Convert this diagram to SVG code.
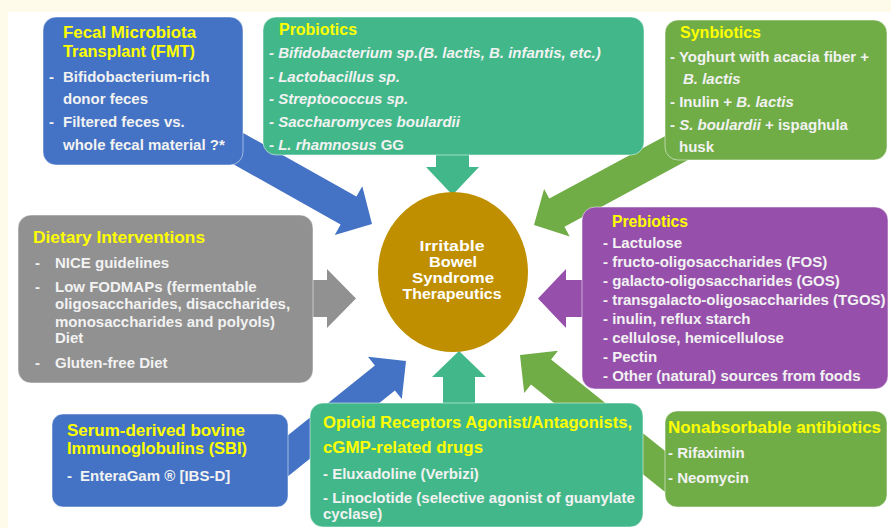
<svg xmlns="http://www.w3.org/2000/svg" width="891" height="528" viewBox="0 0 891 528">
<style>
.bg{fill:#fffbea}
.title{font-family:"Liberation Sans",Arial,sans-serif;font-weight:bold;font-size:16px;fill:#ffff00}
.body{font-family:"Liberation Sans",Arial,sans-serif;font-weight:bold;font-size:15px;fill:#f2f2f2}
.it{font-style:italic}
.center{font-family:"Liberation Sans",Arial,sans-serif;font-weight:bold;font-size:15px;fill:#ffffff;text-anchor:middle}
.box{stroke:#ffffff;stroke-opacity:0.5;stroke-width:1}
.blue{fill:#4472c4}
.teal{fill:#42b88a}
.green{fill:#70ad47}
.gray{fill:#919191}
.purple{fill:#9650ab}
</style>
<rect class="bg" x="0" y="0" width="891" height="528"/>
<rect x="8" y="12" width="883" height="516" fill="#ffffff"/>

<g id="connectors">
  <polygon class="blue" points="181.2,134.8 340.6,224.6 334.8,235.1 372,224 362.3,186.3 356.4,196.6 197.0,107.0"/>
  <polygon class="green" points="720.0,106.4 549.3,198.6 544.1,188.9 534,225 569.7,236.4 564.5,226.7 735.2,134.6"/>
  <polygon class="blue" points="260.0,498.7 394.9,390.4 401.8,399.0 406,361 368.0,356.8 374.9,365.4 240.0,473.7"/>
  <polygon class="green" points="693.8,474.0 551.1,359.4 558.0,350.8 520,355 524.2,393.0 531.0,384.4 673.8,499.0"/>
  <polygon class="teal" points="436,150 469,150 469,167 479,167 452.5,195 426,167 436,167"/>
  <polygon class="teal" points="443,410 443,377 432,377 459,351 486,377 475,377 475,410"/>
  <polygon class="gray" points="305,280 327,280 327,269 356,298.5 327,328 327,317 305,317"/>
  <polygon class="purple" points="595,280 566,280 566,269 538,298.5 566,328 566,317 595,317"/>
</g>

<g id="ibs">
  <ellipse cx="453" cy="272" rx="75" ry="80" fill="#bf8f00"/>
  <text class="center" x="452" y="251" textLength="65" lengthAdjust="spacingAndGlyphs">Irritable</text>
  <text class="center" x="453" y="267" textLength="48" lengthAdjust="spacingAndGlyphs">Bowel</text>
  <text class="center" x="453" y="283" textLength="82" lengthAdjust="spacingAndGlyphs">Syndrome</text>
  <text class="center" x="452" y="299" textLength="99" lengthAdjust="spacingAndGlyphs">Therapeutics</text>
</g>

<g id="fmt">
  <rect class="box blue" x="43" y="17" width="200" height="148" rx="13"/>
  <text class="title" x="63" y="38" textLength="133" lengthAdjust="spacingAndGlyphs">Fecal Microbiota</text>
  <text class="title" x="63" y="57" textLength="132" lengthAdjust="spacingAndGlyphs">Transplant (FMT)</text>
  <text class="body" x="49" y="82">-</text>
  <text class="body" x="63" y="82">Bifidobacterium-rich</text>
  <text class="body" x="63" y="104">donor feces</text>
  <text class="body" x="49" y="127">-</text>
  <text class="body" x="63" y="127">Filtered feces vs.</text>
  <text class="body" x="63" y="150">whole fecal material ?*</text>
</g>

<g id="probiotics">
  <rect class="box teal" x="263" y="17" width="381" height="138" rx="13"/>
  <text class="title" x="279" y="35" textLength="78" lengthAdjust="spacingAndGlyphs">Probiotics</text>
  <text class="body it" x="269" y="58">- Bifidobacterium sp.(B. lactis, B. infantis, etc.)</text>
  <text class="body it" x="269" y="82">- Lactobacillus sp.</text>
  <text class="body it" x="269" y="104">- Streptococcus sp.</text>
  <text class="body it" x="269" y="127">- Saccharomyces boulardii</text>
  <text class="body" x="269" y="150">- <tspan class="it">L. rhamnosus</tspan> GG</text>
</g>

<g id="synbiotics">
  <rect class="box green" x="665" y="20" width="222" height="140" rx="13"/>
  <text class="title" x="680" y="38" textLength="81" lengthAdjust="spacingAndGlyphs">Synbiotics</text>
  <text class="body" x="670" y="62">- Yoghurt with acacia fiber +</text>
  <text class="body it" x="683" y="84">B. lactis</text>
  <text class="body" x="670" y="107">- Inulin + <tspan class="it">B. lactis</tspan></text>
  <text class="body" x="670" y="130">- <tspan class="it">S. boulardii</tspan> + ispaghula</text>
  <text class="body" x="679" y="152">husk</text>
</g>

<g id="dietary">
  <rect class="box gray" x="18" y="215" width="295" height="168" rx="13"/>
  <text class="title" x="33" y="243" textLength="172" lengthAdjust="spacingAndGlyphs">Dietary Interventions</text>
  <text class="body" x="35" y="268">-</text>
  <text class="body" x="55" y="268">NICE guidelines</text>
  <text class="body" x="35" y="292">-</text>
  <text class="body" x="55" y="292">Low FODMAPs (fermentable</text>
  <text class="body" x="55" y="309">oligosaccharides, disaccharides,</text>
  <text class="body" x="55" y="327">monosaccharides and polyols)</text>
  <text class="body" x="55" y="343">Diet</text>
  <text class="body" x="35" y="368">-</text>
  <text class="body" x="55" y="368">Gluten-free Diet</text>
</g>

<g id="prebiotics">
  <rect class="box purple" x="582" y="207" width="306" height="182" rx="13"/>
  <text class="title" x="612" y="227" textLength="76" lengthAdjust="spacingAndGlyphs">Prebiotics</text>
  <text class="body" x="603" y="248">- Lactulose</text>
  <text class="body" x="603" y="267">- fructo-oligosaccharides (FOS)</text>
  <text class="body" x="603" y="286">- galacto-oligosaccharides (GOS)</text>
  <text class="body" x="603" y="305">- transgalacto-oligosaccharides (TGOS)</text>
  <text class="body" x="603" y="324">- inulin, reflux starch</text>
  <text class="body" x="603" y="343">- cellulose, hemicellulose</text>
  <text class="body" x="603" y="362">- Pectin</text>
  <text class="body" x="603" y="381">- Other (natural) sources from foods</text>
</g>

<g id="sbi">
  <rect class="box blue" x="52" y="414" width="236" height="93" rx="11"/>
  <text class="title" x="67" y="436" textLength="178" lengthAdjust="spacingAndGlyphs">Serum-derived bovine</text>
  <text class="title" x="67" y="454" textLength="180" lengthAdjust="spacingAndGlyphs">Immunoglobulins (SBI)</text>
  <text class="body" x="67" y="481">-</text>
  <text class="body" x="80" y="481">EnteraGam ® [IBS-D]</text>
</g>

<g id="opioid">
  <rect class="box teal" x="310" y="403" width="333" height="124" rx="13"/>
  <text class="title" x="323" y="428" textLength="309" lengthAdjust="spacingAndGlyphs">Opioid Receptors Agonist/Antagonists,</text>
  <text class="title" x="323" y="453" textLength="160" lengthAdjust="spacingAndGlyphs">cGMP-related drugs</text>
  <text class="body" x="323" y="479">- Eluxadoline (Verbizi)</text>
  <text class="body" x="323" y="503">- Linoclotide (selective agonist of guanylate</text>
  <text class="body" x="323" y="519">cyclase)</text>
</g>

<g id="antibiotics">
  <rect class="box green" x="665" y="411" width="222" height="96" rx="12"/>
  <text class="title" x="668" y="433" textLength="213" lengthAdjust="spacingAndGlyphs">Nonabsorbable antibiotics</text>
  <text class="body" x="668" y="458">- Rifaximin</text>
  <text class="body" x="668" y="483">- Neomycin</text>
</g>
</svg>
